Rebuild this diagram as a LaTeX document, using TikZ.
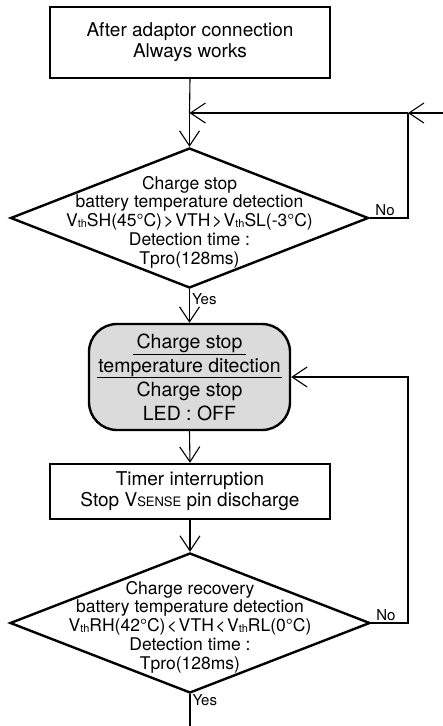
\documentclass[tikz,border=0pt]{standalone}
\usepackage{fontspec}
\setmainfont{TeX Gyre Heros}
\usetikzlibrary{arrows.meta,shapes.geometric}

\newcommand{\thsub}{\raisebox{-1pt}{\fontsize{11}{11}\selectfont th}}
\newcommand{\smallcap}[1]{{\fontsize{13}{13}\selectfont #1}}

\begin{document}
\begin{tikzpicture}[x=1pt,y=-1pt,
    arr/.style={-{Straight Barb[length=15pt,width=20pt]},line width=1.1pt},
    flowbox/.style={rectangle,draw,line width=2.4pt,minimum width=280pt,align=center,font=\fontsize{19}{21}\selectfont},
    decision/.style={diamond,draw,line width=2.4pt,inner sep=0pt},
    dtext/.style={align=center,font=\fontsize{17.5}{18.8}\selectfont},
    answer/.style={font=\fontsize{15}{15}\selectfont,inner sep=2pt}]
                \useasboundingbox (0,0) rectangle (443,726);

                \node[flowbox,minimum height=71pt] (start) at (190, 42.5) {After adaptor connection\\Always works};

                \node[decision,minimum width=358pt,minimum height=140pt] (d1) at (189.5, 218) {};
                \node[dtext] (d1t) at (189.5, 222) {Charge stop\\battery temperature detection\\V\thsub SH(45°C)\hspace{1.5pt}>\hspace{1.5pt}VTH\hspace{1.5pt}>\hspace{1.5pt}V\thsub SL(-3°C)\\Detection time :\\Tpro(128ms)};

                \node[rectangle,rounded corners=28pt,draw,line width=2.4pt,fill=black!14,minimum width=201pt,minimum height=106pt,align=center,font=\fontsize{19.5}{24}\selectfont] (stop) at (189.5, 377) {\underline{\hspace{4pt}Charge stop\hspace{4pt}}\\temperature ditection\\Charge stop\\LED : OFF};
                \draw[line width=0.9pt] ([xshift=9pt]stop.west) -- ([xshift=-9pt]stop.east);

                \node[flowbox,minimum height=55pt] (timer) at (190, 491.5) {Timer interruption\\Stop V\smallcap{SENSE} pin discharge};

                \node[decision,minimum width=360pt,minimum height=140pt] (d2) at (190, 623) {};
                \node[dtext] (d2t) at (190, 627) {Charge recovery\\battery temperature detection\\V\thsub RH(42°C)\hspace{1.5pt}<\hspace{1.5pt}VTH\hspace{1.5pt}<\hspace{1.5pt}V\thsub RL(0°C)\\Detection time :\\Tpro(128ms)};

                \coordinate (in) at (443, 113);
                \coordinate (j1) at (408, 113);
                \coordinate (m1) at (189.5, 113);
                \coordinate (out) at (190, 726);

                \draw[line width=1.1pt] (start.south) -- (m1);
                \draw[arr] (m1) -- (d1.north);
                \draw[arr] (in) -- (j1);
                \draw[arr] (j1) -- (m1);
                \draw[line width=1.1pt] (d1.east) -- node[answer,above,pos=0.4] {No} (d1.east -| j1) -- (j1);
                \draw[arr] (d1.south) -- node[answer,right,pos=0.3] {Yes} (stop.north);
                \draw[arr] (stop.south) -- (timer.north);
                \draw[arr] (timer.south) -- (d2.north);
                \draw[line width=1.1pt] (d2.south) -- node[answer,right,pos=0.2] {Yes} (out);
                \draw[arr] (d2.east) -- node[answer,above,pos=0.4] {No} (d2.east -| j1) -- (j1 |- stop.east) -- (stop.east);
            \end{tikzpicture}
\end{document}
